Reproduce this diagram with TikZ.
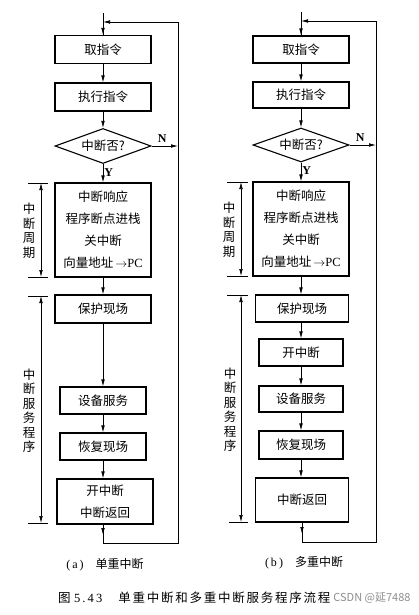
\documentclass[tikz,border=0pt]{standalone}
\usepackage{fontspec}
\setmainfont{Liberation Serif}
\newfontfamily\cjk{Noto Sans CJK SC}
\newfontfamily\cjkwide{Noto Sans CJK SC}[LetterSpace=14]
\usetikzlibrary{arrows.meta,shapes.geometric}

\begin{document}
\begin{tikzpicture}[x=1pt,y=-1pt,
 box/.style={draw,line width=1.1pt,align=center,inner sep=0pt,minimum width=96pt,minimum height=28pt,font=\cjk\fontsize{12.5}{22}\selectfont},
 decide/.style={draw,diamond,line width=1.1pt,aspect=2.75,inner sep=0pt,minimum width=96pt,minimum height=35pt,font=\cjk\fontsize{12.5}{14}\selectfont},
 arr/.style={-{Latex[length=7pt,width=3.6pt]},line width=0.7pt},
 wire/.style={line width=0.7pt},
 span/.style={{Latex[length=7pt,width=3.6pt]}-{Latex[length=7pt,width=3.6pt]},line width=0.6pt},
 tick/.style={line width=0.6pt},
 side/.style={align=center,inner sep=0pt,font=\cjk\fontsize{12.5}{14.5}\selectfont},
 lbl/.style={inner sep=0pt,font=\fontsize{12}{14}\selectfont}]
\useasboundingbox (0,0) rectangle (419,615);

% (a) single interrupt
\node[box] (a1) at (103,49.5) {取指令};
\node[box] (a2) at (103,97) {执行指令};
\node[decide] (ad) at (103,146) {中断否?};
\node[box,minimum height=94pt] (a3) at (103,230) {中断响应\\程序断点进栈\\关中断\\向量地址{\normalfont\,$\rightarrow$PC}};
\node[box] (a4) at (103,309) {保护现场};
\node[box,minimum width=86pt,minimum height=27pt] (a5) at (103,400.5) {设备服务};
\node[box,minimum width=86pt,minimum height=27pt] (a6) at (103,446.5) {恢复现场};
\node[box,minimum height=45pt] (a7) at (105,501.5) {开中断\\中断返回};
\coordinate (atop) at (103,13);
\coordinate (ain) at (103,22);
\coordinate (atr) at (178,22);
\coordinate (aout) at (103,535);
\coordinate (abl) at (103,543);
\coordinate (abr) at (178,543);
\draw[wire] (atop)--(a1);
\draw[arr] (ain)--(a1);
\draw[arr] (a1)--(a2);
\draw[arr] (a2)--(ad);
\draw[arr] (ad.east)--(ad.east-|atr) node[lbl,pos=0.4,above=3pt]{\bfseries N};
\draw[arr] (ad)--(a3) node[lbl,pos=0.45,right=1pt]{\bfseries Y};
\draw[arr] (a3)--(a4);
\draw[arr] (a4)--(a5);
\draw[arr] (a5)--(a6);
\draw[arr] (a6)--(a7.north-|a6);
\draw[arr] (a7.south-|aout)--(aout);
\draw[wire] (a7.south-|aout)--(abl)--(abr)--(atr);
\draw[arr] (atr)--(ain);
% (a) side spans
\coordinate (ac1) at (41,183);
\coordinate (ac2) at (41,277);
\coordinate (as1) at (41,296);
\coordinate (as2) at (41,523);
\draw[span] (ac1)--(ac2);
\draw[span] (as1)--(as2);
\draw[tick] ([xshift=-13pt]ac1)--([xshift=7pt]ac1);
\draw[tick] ([xshift=-13pt]ac2)--([xshift=7pt]ac2);
\draw[tick] ([xshift=-13pt]as1)--([xshift=7pt]as1);
\draw[tick] ([xshift=-13pt]as2)--([xshift=7pt]as2);
\node[side] (acl) at (29,231) {中\\断\\周\\期};
\node[side] (asl) at (29,411) {中\\断\\服\\务\\程\\序};
\node[lbl] (acap) at (105,565) {(\,a\,)\quad{\cjk 单重中断}};

% (b) nested interrupts
\node[box,minimum height=27pt] (b1) at (301,49.5) {取指令};
\node[box,minimum height=26pt] (b2) at (301,95) {执行指令};
\node[decide,minimum height=34pt] (bd) at (301,145) {中断否?};
\node[box,minimum height=94pt] (b3) at (301,229) {中断响应\\程序断点进栈\\关中断\\向量地址{\normalfont\,$\rightarrow$PC}};
\node[box,minimum width=93pt,minimum height=27pt] (b4) at (302,308.5) {保护现场};
\node[box,minimum width=84pt,minimum height=27pt] (b5) at (301,352.5) {开中断};
\node[box,minimum width=84pt,minimum height=26pt] (b6) at (301,399) {设备服务};
\node[box,minimum width=84pt,minimum height=28pt] (b7) at (301,445) {恢复现场};
\node[box,minimum width=93pt,minimum height=44pt] (b8) at (302,500) {中断返回};
\coordinate (btop) at (301,12);
\coordinate (bin) at (301,21);
\coordinate (btr) at (376,21);
\coordinate (bout) at (302,534);
\coordinate (bbl) at (302,542);
\coordinate (bbr) at (376,542);
\draw[wire] (btop)--(b1);
\draw[arr] (bin)--(b1);
\draw[arr] (b1)--(b2);
\draw[arr] (b2)--(bd);
\draw[arr] (bd.east)--(bd.east-|btr) node[lbl,pos=0.4,above=3pt]{\bfseries N};
\draw[arr] (bd)--(b3) node[lbl,pos=0.45,right=1pt]{\bfseries Y};
\draw[arr] (b3)--(b4.north-|b3);
\draw[arr] (b4.south-|b5)--(b5);
\draw[arr] (b5)--(b6);
\draw[arr] (b6)--(b7);
\draw[arr] (b7)--(b8.north-|b7);
\draw[arr] (b8.south-|bout)--(bout);
\draw[wire] (b8.south-|bout)--(bbl)--(bbr)--(btr);
\draw[arr] (btr)--(bin);
% (b) side spans
\coordinate (bc1) at (241,182);
\coordinate (bc2) at (241,276);
\coordinate (bs1) at (241,295);
\coordinate (bs2) at (241,522);
\draw[span] (bc1)--(bc2);
\draw[span] (bs1)--(bs2);
\draw[tick] ([xshift=-14pt]bc1)--([xshift=7pt]bc1);
\draw[tick] ([xshift=-14pt]bc2)--([xshift=7pt]bc2);
\draw[tick] ([xshift=-14pt]bs1)--([xshift=7pt]bs1);
\draw[tick] ([xshift=-12pt]bs2)--([xshift=7pt]bs2);
\node[side] (bcl) at (229,230) {中\\断\\周\\期};
\node[side] (bsl) at (230,410) {中\\断\\服\\务\\程\\序};
\node[lbl] (bcap) at (304,563) {(\,b\,)\quad{\cjk 多重中断}};

% figure caption
\node[lbl,anchor=west,font=\fontsize{12.5}{14}\selectfont] (fig) at (58,598) {{\cjk 图}\;5\,.\,4\,3\quad\;{\cjkwide 单重中断和多重中断服务程序流程}};
\node[inner sep=0pt,text=black!45,font=\cjk\fontsize{11}{13}\selectfont] (mark) at (372,598) {CSDN @延7488};
\end{tikzpicture}
\end{document}
